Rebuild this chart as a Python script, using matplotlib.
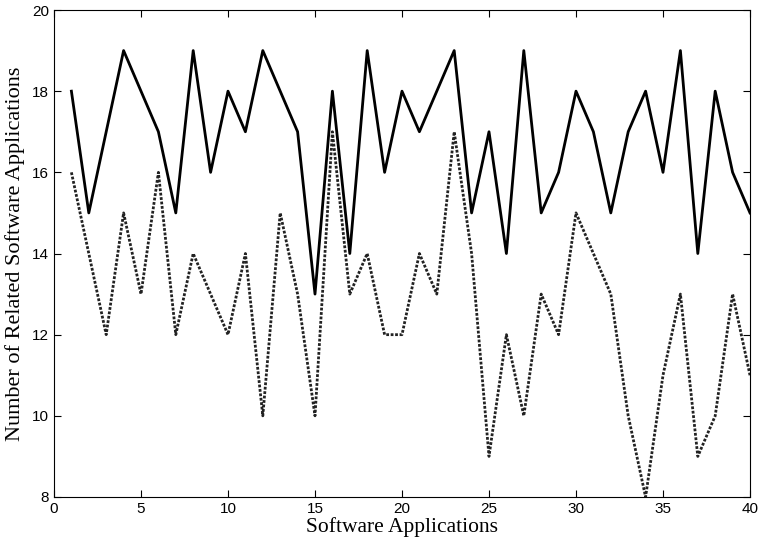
import matplotlib
matplotlib.use('Agg')
import matplotlib.pyplot as plt
import numpy as np

# Datos
apps = np.arange(1, 41)
relacionadas_a = [18, 15, 17, 19, 18, 17, 15, 19, 16, 18,
                  17, 19, 18, 17, 13, 18, 14, 19, 16, 18,
                  17, 18, 19, 15, 17, 14, 19, 15, 16, 18,
                  17, 15, 17, 18, 16, 19, 14, 18, 16, 15]
relacionadas_b = [16, 14, 12, 15, 13, 16, 12, 14, 13, 12,
                  14, 10, 15, 13, 10, 17, 13, 14, 12, 12,
                  14, 13, 17, 14, 9, 12, 10, 13, 12, 15,
                  14, 13, 10, 8, 11, 13, 9, 10, 13, 11]
xticks = [0, 5, 10, 15, 20, 25, 30, 35, 40]
yticks = [8, 10, 12, 14, 16, 18, 20]

fig = plt.figure(figsize=(7.58, 5.46), dpi=100)
ax = fig.add_axes([54 / 758, 1 - 497 / 546, (750 - 54) / 758, (497 - 10) / 546])

ax.plot(apps, relacionadas_a, color='black', linewidth=2.0, linestyle='-')
ax.plot(apps, relacionadas_b, color='#222222', linewidth=2.0, linestyle=(0, (1, 0.6)))

ax.set_xlim(0, 40)
ax.set_ylim(8, 20)
ax.set_xticks(xticks)
ax.set_yticks(yticks)
ax.tick_params(direction='in', top=True, right=True, length=5, width=0.8,
               labelsize=11, colors='black')
for lbl in ax.get_xticklabels() + ax.get_yticklabels():
    lbl.set_fontfamily('Liberation Sans')

ax.set_xlabel('Software Applications', fontsize=15.5, family='Liberation Serif', labelpad=1)
ax.set_ylabel('Number of Related Software Applications', fontsize=16,
              family='Liberation Serif', labelpad=5)

fig.savefig('out.png', dpi=100)
